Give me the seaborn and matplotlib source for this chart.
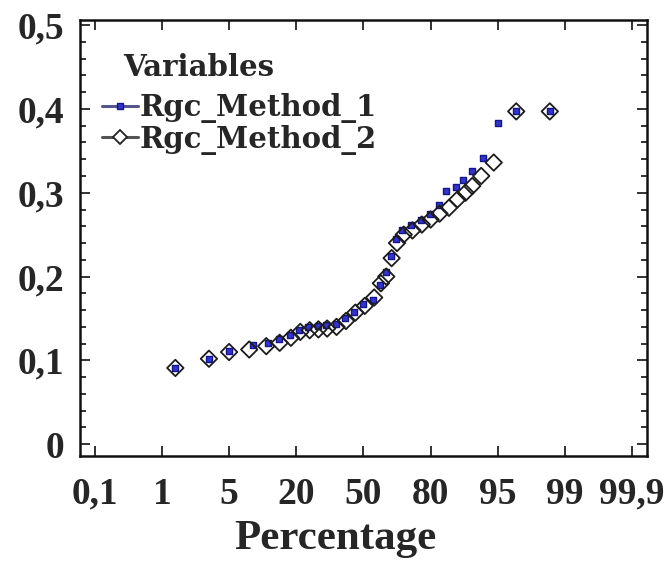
import numpy as np
import pandas as pd
import seaborn as sns
import matplotlib
matplotlib.use("Agg")
from matplotlib import pyplot as plt
from matplotlib.lines import Line2D
from matplotlib.ticker import MultipleLocator, FuncFormatter, FixedLocator

# percentages (x) and values (y)
pct_m1 = [1.8, 3.8, 5.0, 10.4, 13.7, 16.1, 18.5, 21.2, 25.4, 29.6, 33.5,
          37.7, 41.9, 45.8, 50.0, 54.2, 57.5, 59.9, 62.3, 64.7, 67.4, 71.3,
          75.5, 79.7, 81.8, 83.5, 85.6, 87.2, 89.3, 91.7, 95.0, 96.1, 98.1]
val_m1 = [0.091, 0.102, 0.111, 0.118, 0.121, 0.125, 0.130, 0.136, 0.140,
          0.141, 0.142, 0.144, 0.150, 0.158, 0.167, 0.172, 0.190, 0.205,
          0.225, 0.245, 0.256, 0.262, 0.268, 0.275, 0.285, 0.302, 0.307,
          0.315, 0.326, 0.341, 0.383, 0.397, 0.397]

pct_m2 = [1.8, 3.8, 5.0, 9.5, 13.3, 16.3, 18.8, 21.8, 26.0, 29.9, 33.8,
          38.0, 42.2, 46.4, 50.6, 54.8, 57.8, 60.2, 62.6, 65.0, 68.0, 71.9,
          76.1, 80.0, 82.0, 84.1, 86.0, 87.8, 89.3, 91.3, 94.1, 96.1, 98.1]
val_m2 = [0.091, 0.102, 0.110, 0.113, 0.117, 0.121, 0.127, 0.134, 0.136,
          0.137, 0.138, 0.140, 0.147, 0.157, 0.165, 0.175, 0.192, 0.200,
          0.222, 0.240, 0.250, 0.255, 0.262, 0.268, 0.275, 0.282, 0.292,
          0.300, 0.308, 0.320, 0.336, 0.397, 0.397]

x_ticks = [0.1, 1, 5, 20, 50, 80, 95, 99, 99.9]
x_tick_labels = ['0,1', '1', '5', '20', '50', '80', '95', '99', '99,9']

# evenly spaced percentage axis (tick i sits at position i)
MID_P = np.array([1, 5, 20, 50, 80, 95, 99], float)
MID_T = np.arange(1, 8, dtype=float)


def fwd(p):
    p = np.clip(np.asarray(p, float), 1e-9, 100 - 1e-9)
    with np.errstate(all='ignore'):
        lo = 1 + np.log10(p)
        hi = 7 - np.log10(100 - p)
    return np.where(p < 1, lo, np.where(p > 99, hi, np.interp(p, MID_P, MID_T)))


def inv(t):
    t = np.asarray(t, float)
    with np.errstate(all='ignore'):
        lo = 10 ** (t - 1)
        hi = 100 - 10 ** (7 - t)
    return np.where(t < 1, lo, np.where(t > 7, hi, np.interp(t, MID_T, MID_P)))


df1 = pd.DataFrame({'pct': pct_m1, 'val': val_m1})
df2 = pd.DataFrame({'pct': pct_m2, 'val': val_m2})

sns.set_style('ticks')
plt.rcParams['font.family'] = ['Liberation Serif', 'DejaVu Serif']
plt.rcParams['font.weight'] = 'bold'

fig = plt.figure(figsize=(6.65, 5.64), dpi=100)
ax = fig.add_axes([0.1203, 0.1915, 0.8526, 0.773])
ax.set_xscale('function', functions=(fwd, inv))

blue_face = '#3434cc'
blue_edge = '#14148c'
sns.scatterplot(data=df1, x='pct', y='val', ax=ax, marker='s', s=22,
                color=blue_face, edgecolor=blue_edge, linewidth=1.0, zorder=3)
sns.scatterplot(data=df2, x='pct', y='val', ax=ax, marker='D', s=70,
                facecolor='none', edgecolor='#1c1c1c', linewidth=1.3, zorder=4)

ax.set_xlim(0.0603, 99.94)
ax.set_ylim(-0.014, 0.506)
ax.xaxis.set_major_locator(FixedLocator(x_ticks))
ax.xaxis.set_minor_locator(FixedLocator([]))
ax.set_xticklabels(x_tick_labels)
ax.yaxis.set_major_locator(MultipleLocator(0.1))
ax.yaxis.set_minor_locator(MultipleLocator(0.02))
ax.yaxis.set_major_formatter(FuncFormatter(lambda v, _: f'{v:.1f}'.replace('.', ',') if abs(v) > 1e-9 else '0'))

ax.tick_params(which='both', direction='in', top=True, right=True, width=1.3, color='#222222')
ax.tick_params(which='major', length=7)
ax.tick_params(which='minor', length=4)
ax.tick_params(axis='x', pad=15, labelsize=27)
ax.tick_params(axis='y', pad=11, labelsize=27)
for lab in ax.get_xticklabels() + ax.get_yticklabels():
    lab.set_fontweight('bold')
for sp in ax.spines.values():
    sp.set_linewidth(1.8)
    sp.set_color('#111111')

ax.set_xlabel('')
ax.set_ylabel('')
fig.text(0.505, 0.045, 'Percentage', ha='center', va='center', fontsize=31, fontweight='bold')

# legend: title placed as its own text, entries below it
ax.text(0.076, 0.89, 'Variables', transform=ax.transAxes, ha='left', va='center',
        fontsize=21, fontweight='bold', family='DejaVu Serif')
handles = [
    Line2D([], [], color='#55558f', lw=2.2, marker='s', markersize=4.5,
           markerfacecolor=blue_face, markeredgecolor=blue_edge),
    Line2D([], [], color='#555555', lw=2.2, marker='D', markersize=7,
           markerfacecolor='white', markeredgecolor='#222222', markeredgewidth=1.3),
]
ax.legend(handles, ['Rgc_Method_1', 'Rgc_Method_2'],
          loc='center left', bbox_to_anchor=(0.038, 0.762), frameon=False,
          handlelength=1.25, handletextpad=0.05, labelspacing=0.05,
          borderpad=0.0, borderaxespad=0.0,
          prop={'family': 'DejaVu Serif', 'weight': 'bold', 'size': 21})

fig.savefig('out.png', dpi=100)
